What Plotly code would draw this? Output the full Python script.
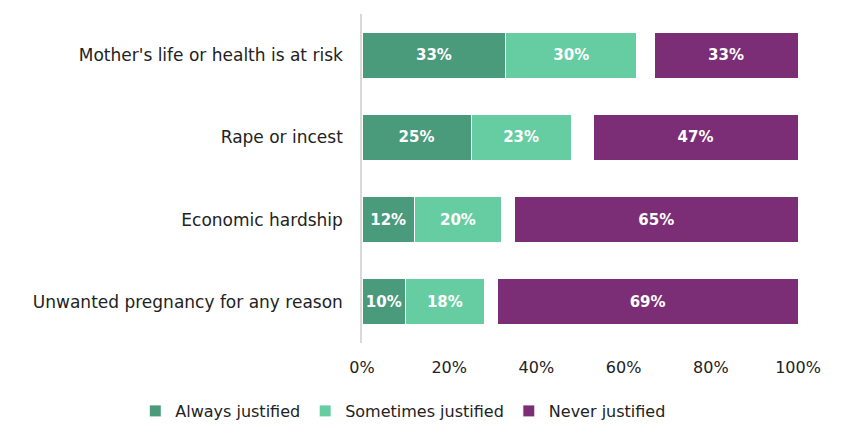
import plotly.graph_objects as go

categories = ["Mother's life or health is at risk", "Rape or incest",
              "Economic hardship", "Unwanted pregnancy for any reason"]
always = [33, 25, 12, 10]
sometimes = [30, 23, 20, 18]
no_answer = [4, 5, 3, 3]
never = [33, 47, 65, 69]
tick_vals = [0, 20, 40, 60, 80, 100]
tick_text = ["0%", "20%", "40%", "60%", "80%", "100%"]

FONT = "DejaVu Sans"
fig = go.Figure()

def add(name, vals, color, show_text=True, legend=True):
    fig.add_trace(go.Bar(
        y=categories, x=vals, name=name, orientation="h",
        marker=dict(color=color, line=dict(color="white", width=1 if show_text else 0)),
        text=[f"{v}%" for v in vals] if show_text else None,
        texttemplate="%{text}" if show_text else None,
        textposition="inside", insidetextanchor="middle",
        textfont=dict(color="white", size=15, family=FONT, weight="bold"),
        showlegend=legend, hoverinfo="skip" if not show_text else None,
    ))

add("Always justified", always, "#4A9A7C")
add("Sometimes justified", sometimes, "#66CDA3")
add("No answer", no_answer, "rgba(0,0,0,0)", show_text=False, legend=False)
add("Never justified", never, "#7B2E76")

fig.update_layout(
    barmode="stack", bargap=0.44,
    width=834, height=426,
    margin=dict(l=354, r=44, t=6, b=86),
    plot_bgcolor="white", paper_bgcolor="white",
    font=dict(family=FONT, size=16, color="#222222"),
    uniformtext=dict(minsize=8, mode="show"),
    xaxis=dict(range=[0, 100], tickvals=tick_vals, ticktext=tick_text,
               showgrid=False, zeroline=False, showline=False, automargin=False,
               ticklabelstandoff=13,
               tickfont=dict(size=16, color="#222222"), ticks=""),
    yaxis=dict(autorange="reversed", showline=True, linecolor="#D9D9D9", linewidth=1.5,
               ticks="", ticklabelstandoff=14, automargin=False,
               tickfont=dict(size=17, color="#222222")),
    legend=dict(orientation="h", x=-0.52, xanchor="left", xref="paper",
                y=-0.155, yanchor="top", yref="paper",
                font=dict(size=16), traceorder="normal", itemwidth=30),
)
fig.write_html("out.html")
